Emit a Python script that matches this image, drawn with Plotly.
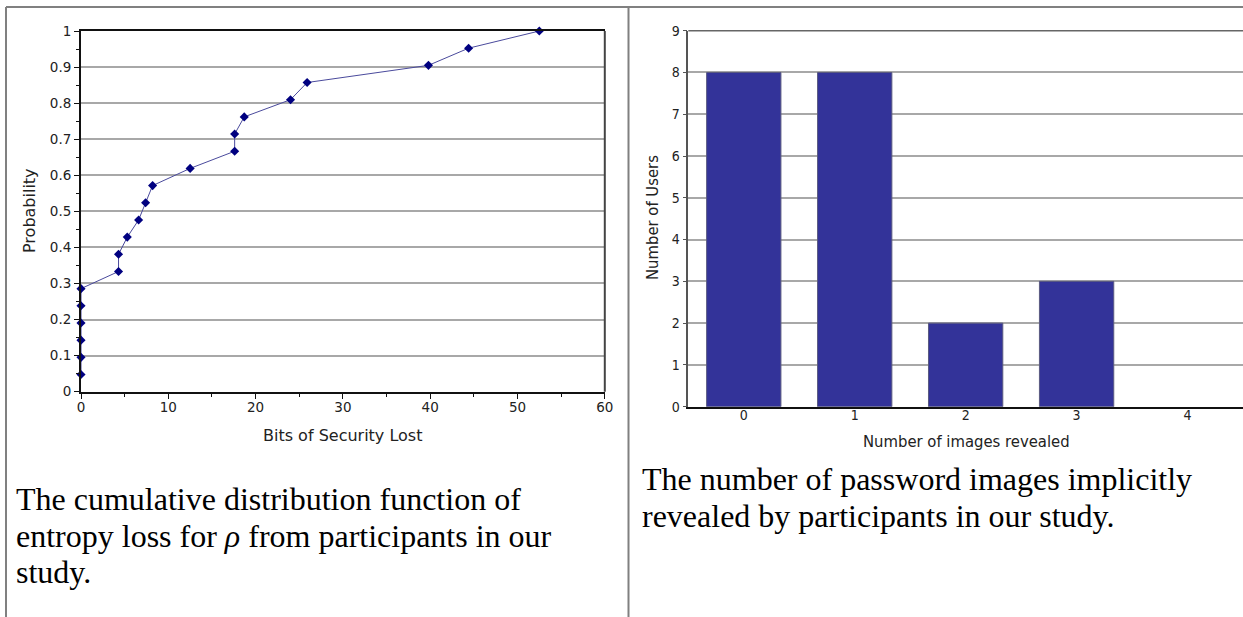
import plotly.graph_objects as go

W, H = 1243, 617

# ---- data ----
bits_lost = [0, 0, 0, 0, 0, 0, 4.3, 4.3, 5.3, 6.6, 7.4, 8.2, 12.5, 17.6, 17.6,
             18.7, 24.0, 25.9, 39.8, 44.4, 52.5]
probability = [1/21, 2/21, 3/21, 4/21, 5/21, 6/21, 7/21, 8/21, 9/21, 10/21, 11/21,
               12/21, 13/21, 14/21, 15/21, 16/21, 17/21, 18/21, 19/21, 20/21, 21/21]

images_revealed = [0, 1, 2, 3, 4]
num_users = [8, 8, 2, 3, 0]

left_caption = ["The cumulative distribution function of",
                "entropy loss for <i>ρ</i> from participants in our",
                "study."]
right_caption = ["The number of password images implicitly",
                 "revealed by participants in our study."]


def px(x):
    return x / W


def py(y):
    return 1 - y / H


fig = go.Figure()

fig.add_trace(go.Scatter(
    x=bits_lost, y=probability, mode="lines+markers",
    line=dict(color="#4a4a9c", width=1),
    marker=dict(symbol="diamond", size=7, color="#000080"),
    cliponaxis=False, xaxis="x", yaxis="y", showlegend=False))

fig.add_trace(go.Bar(
    x=images_revealed, y=num_users, width=0.67,
    marker=dict(color="#333399",
                line=dict(color="#5a5a80", width=[1 if v > 0 else 0 for v in num_users])),
    xaxis="x2", yaxis="y2", showlegend=False))

sans = "DejaVu Sans"
cond = "DejaVu Sans Condensed, DejaVu Sans"

fig.update_layout(
    template="none",
    width=W, height=H, margin=dict(l=0, r=0, t=0, b=0, pad=0, autoexpand=False),
    paper_bgcolor="white", plot_bgcolor="white",
    xaxis=dict(domain=[px(81), px(604.8)], range=[0, 60], dtick=10, tick0=0,
               showgrid=False, zeroline=False, showline=True, linecolor="#111",
               linewidth=2, mirror=True, ticks="outside", ticklen=5, tickcolor="#111",
               minor=dict(ticks="outside", ticklen=3, dtick=5, tickcolor="#111"),
               automargin=False, ticklabelstandoff=-3,
               tickfont=dict(family=sans, size=13.5, color="#222"), anchor="y"),
    yaxis=dict(domain=[py(391.7), py(31)], range=[0, 1], dtick=0.1, tick0=0,
               showgrid=True, gridcolor="#a8a8a8", gridwidth=1.5, zeroline=False,
               showline=True, linecolor="#111", linewidth=2, mirror=False,
               ticks="outside", ticklen=5, tickcolor="#111",
               minor=dict(ticks="outside", ticklen=3, dtick=0.05, tickcolor="#111",
                          showgrid=False),
               automargin=False,
               tickfont=dict(family=sans, size=13.5, color="#222"), anchor="x"),
    xaxis2=dict(domain=[px(688.3), 1.0], range=[-0.5, 4.5], tickvals=images_revealed,
                showgrid=False, zeroline=False, showline=True, linecolor="#111",
                linewidth=2, ticks="", automargin=False, ticklabelstandoff=-6,
                tickfont=dict(family=cond, size=14, color="#222"), anchor="y2"),
    yaxis2=dict(domain=[py(406.7), py(30.7)], range=[0, 9], dtick=1, tick0=0,
                showgrid=True, gridcolor="#a8a8a8", gridwidth=1.5, zeroline=False,
                showline=True, linecolor="#555", linewidth=1.5,
                ticks="outside", ticklen=4, tickcolor="#555", automargin=False,
                tickfont=dict(family=cond, size=14, color="#222"), anchor="x2"),
)

shapes = [
    # table borders
    dict(type="line", xref="paper", yref="paper", x0=px(6), x1=1, y0=py(7), y1=py(7),
         line=dict(color="#808080", width=2)),
    dict(type="line", xref="paper", yref="paper", x0=px(6), x1=px(6), y0=py(7), y1=0,
         line=dict(color="#808080", width=2)),
    dict(type="line", xref="paper", yref="paper", x0=px(628.5), x1=px(628.5), y0=py(7), y1=0,
         line=dict(color="#808080", width=2)),
    # right edge of line chart frame
    dict(type="line", xref="x domain", yref="y domain", x0=1, x1=1, y0=0, y1=1,
         line=dict(color="#444", width=2)),
    # top line of bar chart
    dict(type="line", xref="x2 domain", yref="y2 domain", x0=0, x1=1, y0=1, y1=1,
         line=dict(color="#666", width=1.5)),
]
fig.update_layout(shapes=shapes)

ann = []


def title(text, x, y, family, size, angle=0):
    ann.append(dict(text=text, x=px(x), y=py(y), xref="paper", yref="paper",
                    xanchor="center", yanchor="middle", showarrow=False,
                    textangle=angle, font=dict(family=family, size=size, color="#222")))


title("Probability", 29, 211, sans, 16, -90)
title("Bits of Security Lost", 342.5, 435, sans, 16)
title("Number of Users", 652, 218, cond, 16.5, -90)
title("Number of images revealed", 966.5, 441, cond, 16.5)

serif = "Liberation Serif, Times New Roman, serif"
for line, yb in zip(left_caption, [509, 546, 582]):
    ann.append(dict(text=line, x=px(13.5), y=py(yb - 10.5), xref="paper", yref="paper",
                    xanchor="left", yanchor="middle", showarrow=False,
                    font=dict(family=serif, size=32, color="black")))
for line, yb in zip(right_caption, [489, 526.5]):
    ann.append(dict(text=line, x=px(639.5), y=py(yb - 10.5), xref="paper", yref="paper",
                    xanchor="left", yanchor="middle", showarrow=False,
                    font=dict(family=serif, size=32, color="black")))
fig.update_layout(annotations=ann)

fig.write_html("out.html", config={"displayModeBar": False},
               post_script="document.body.style.margin='0px';"
                           "document.body.style.overflow='hidden';")
